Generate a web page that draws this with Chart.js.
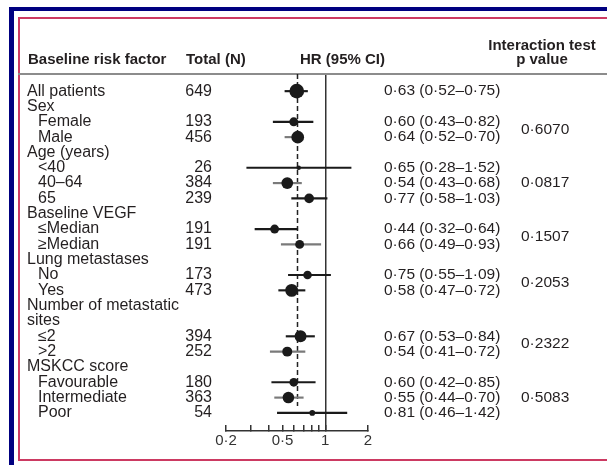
<!DOCTYPE html>
<html>
<head>
<meta charset="utf-8">
<script src="https://cdn.jsdelivr.net/npm/chart.js@4.4.1/dist/chart.umd.min.js"></script>
<style>
  html, body { margin: 0; padding: 0; background: #fff; }
  #wrap { position: relative; width: 607px; height: 465px; overflow: hidden; }
  .frame { position: absolute; box-sizing: border-box; }
  #box { position: absolute; left: 0; top: 0; width: 607px; height: 465px; }
</style>
</head>
<body>
<div id="wrap">
  <div class="frame" style="left:9px;top:7px;width:598px;height:4px;background:#000080"></div>
  <div class="frame" style="left:9px;top:7px;width:5px;height:458px;background:#000080"></div>
  <div class="frame" style="left:18px;top:17px;width:600px;height:444px;border:2px solid #cc3a62"></div>
  <div id="box"><canvas id="chart"></canvas></div>
</div>
<script>
// rows of the table, top to bottom (headers have no N / HR)
const rowLabels = ['All patients', 'Sex', 'Female', 'Male', 'Age (years)', '<40', '40–64', '65',
  'Baseline VEGF', '≤Median', '≥Median', 'Lung metastases', 'No', 'Yes',
  'Number of metastatic', 'sites', '≤2', '>2', 'MSKCC score', 'Favourable', 'Intermediate', 'Poor'];
const totalN = [649, null, 193, 456, null, 26, 384, 239, null, 191, 191, null, 173, 473,
  null, null, 394, 252, null, 180, 363, 54];
const hr = [0.63, null, 0.60, 0.64, null, 0.65, 0.54, 0.77, null, 0.44, 0.66, null, 0.75, 0.58,
  null, null, 0.67, 0.54, null, 0.60, 0.55, 0.81];
const ciLow = [0.52, null, 0.43, 0.52, null, 0.28, 0.43, 0.58, null, 0.32, 0.49, null, 0.55, 0.47,
  null, null, 0.53, 0.41, null, 0.42, 0.44, 0.46];
const ciHigh = [0.75, null, 0.82, 0.70, null, 1.52, 0.68, 1.03, null, 0.64, 0.93, null, 1.09, 0.72,
  null, null, 0.84, 0.72, null, 0.85, 0.70, 1.42];

// interaction test p values and the rows they belong to
const pValues = ['0·6070', '0·0817', '0·1507', '0·2053', '0·2322', '0·5083'];
const pRows = [[2, 3], [5, 6, 7], [9, 10], [12, 13], [16, 17], [19, 20, 21]];

const tickValues = [0.2, 0.3, 0.4, 0.5, 0.6, 0.7, 0.8, 0.9, 1, 2];
const tickLabels = ['0·2', '', '', '0·5', '', '', '', '', '1', '2'];

const greyRows = [3, 6, 10, 17, 20]; // whiskers printed lighter in the source
const fmt = (v) => v.toFixed(2).replace('.', '·');
const FONT = '"Liberation Sans", Arial, sans-serif';
const INK = '#231f20';

const points = [];
const whiskers = [];
rowLabels.forEach((_, i) => {
  if (hr[i] == null) return;
  points.push({ x: hr[i], y: i, n: totalN[i] });
  whiskers.push({ x: [ciLow[i], ciHigh[i]], y: i });
});

const tablePlugin = {
  id: 'table',
  beforeDatasetsDraw(chart) {
    const { ctx, chartArea, scales: { x, y } } = chart;
    ctx.save();
    // header rule
    ctx.strokeStyle = '#8c8c8c';
    ctx.lineWidth = 2;
    ctx.beginPath();
    ctx.moveTo(18, chartArea.top);
    ctx.lineTo(chart.width, chartArea.top);
    ctx.stroke();
    // dashed line at overall HR
    const px = Math.round(x.getPixelForValue(hr[0])) + 0.5;
    ctx.setLineDash([5, 3]);
    ctx.strokeStyle = '#222';
    ctx.lineWidth = 1.5;
    ctx.beginPath();
    ctx.moveTo(px, chartArea.top);
    ctx.lineTo(px, y.getPixelForValue(rowLabels.length - 1.45));
    ctx.stroke();
    ctx.restore();
  },
  afterDraw(chart) {
    const { ctx, scales: { y } } = chart;
    ctx.save();
    ctx.fillStyle = INK;
    ctx.textBaseline = 'middle';

    // column headers
    ctx.font = 'bold 15px ' + FONT;
    ctx.textAlign = 'left';
    ctx.fillText('Baseline risk factor', 28, 60);
    ctx.fillText('Total (N)', 186, 60);
    ctx.fillText('HR (95% CI)', 300, 60);
    ctx.textAlign = 'center';
    ctx.fillText('Interaction test', 542, 46);
    ctx.fillText('p value', 542, 60);

    rowLabels.forEach((label, i) => {
      const py = y.getPixelForValue(i);
      ctx.font = '16px ' + FONT;
      ctx.textAlign = 'left';
      ctx.fillText(label, hr[i] != null && i > 0 ? 38 : 27, py);
      if (totalN[i] != null) {
        ctx.textAlign = 'right';
        ctx.fillText(String(totalN[i]), 212, py);
      }
      if (hr[i] != null) {
        ctx.font = '15.5px ' + FONT;
        ctx.textAlign = 'left';
        ctx.fillText(fmt(hr[i]) + ' (' + fmt(ciLow[i]) + '–' + fmt(ciHigh[i]) + ')', 384, py);
      }
    });

    ctx.font = '15.5px ' + FONT;
    ctx.textAlign = 'left';
    pValues.forEach((p, k) => {
      const rows = pRows[k];
      const mid = rows.reduce((a, b) => a + b, 0) / rows.length;
      ctx.fillText(p, 521, y.getPixelForValue(mid));
    });
    ctx.restore();
  }
};

new Chart(document.getElementById('chart'), {
  data: {
    datasets: [
      {
        type: 'scatter',
        data: points,
        pointRadius: (c) => 1 + 0.25 * Math.sqrt(c.raw.n),
        pointHoverRadius: (c) => 1 + 0.25 * Math.sqrt(c.raw.n),
        backgroundColor: '#1a1a1a',
        borderWidth: 0
      },
      {
        type: 'bar',
        indexAxis: 'y',
        data: whiskers,
        barThickness: 1.5,
        borderWidth: 0,
        backgroundColor: (c) => greyRows.includes(c.raw && c.raw.y) ? '#7a7a7a' : '#1a1a1a'
      }
    ]
  },
  options: {
    responsive: true,
    maintainAspectRatio: false,
    animation: false,
    layout: { padding: { left: 226, right: 239, top: 74, bottom: 8 } },
    plugins: { legend: { display: false }, tooltip: { enabled: false } },
    scales: {
      x: {
        type: 'logarithmic',
        position: 'bottom',
        min: 0.2,
        max: 2,
        afterBuildTicks: (scale) => { scale.ticks = tickValues.map((v) => ({ value: v })); },
        ticks: {
          autoSkip: false,
          maxRotation: 0,
          padding: 7,
          color: '#333',
          font: { family: FONT, size: 15 },
          callback: (v, i) => tickLabels[i]
        },
        grid: {
          color: (c) => (c.tick && c.tick.value === 1 ? '#333' : 'rgba(0,0,0,0)'),
          lineWidth: 1.5,
          tickColor: '#333',
          tickLength: -6
        },
        border: { display: true, color: '#333', width: 1.5 }
      },
      y: {
        type: 'linear',
        reverse: true,
        offset: false,
        min: -1.12,
        max: 22.18,
        display: false
      }
    }
  },
  plugins: [tablePlugin]
});
</script>
</body>
</html>
